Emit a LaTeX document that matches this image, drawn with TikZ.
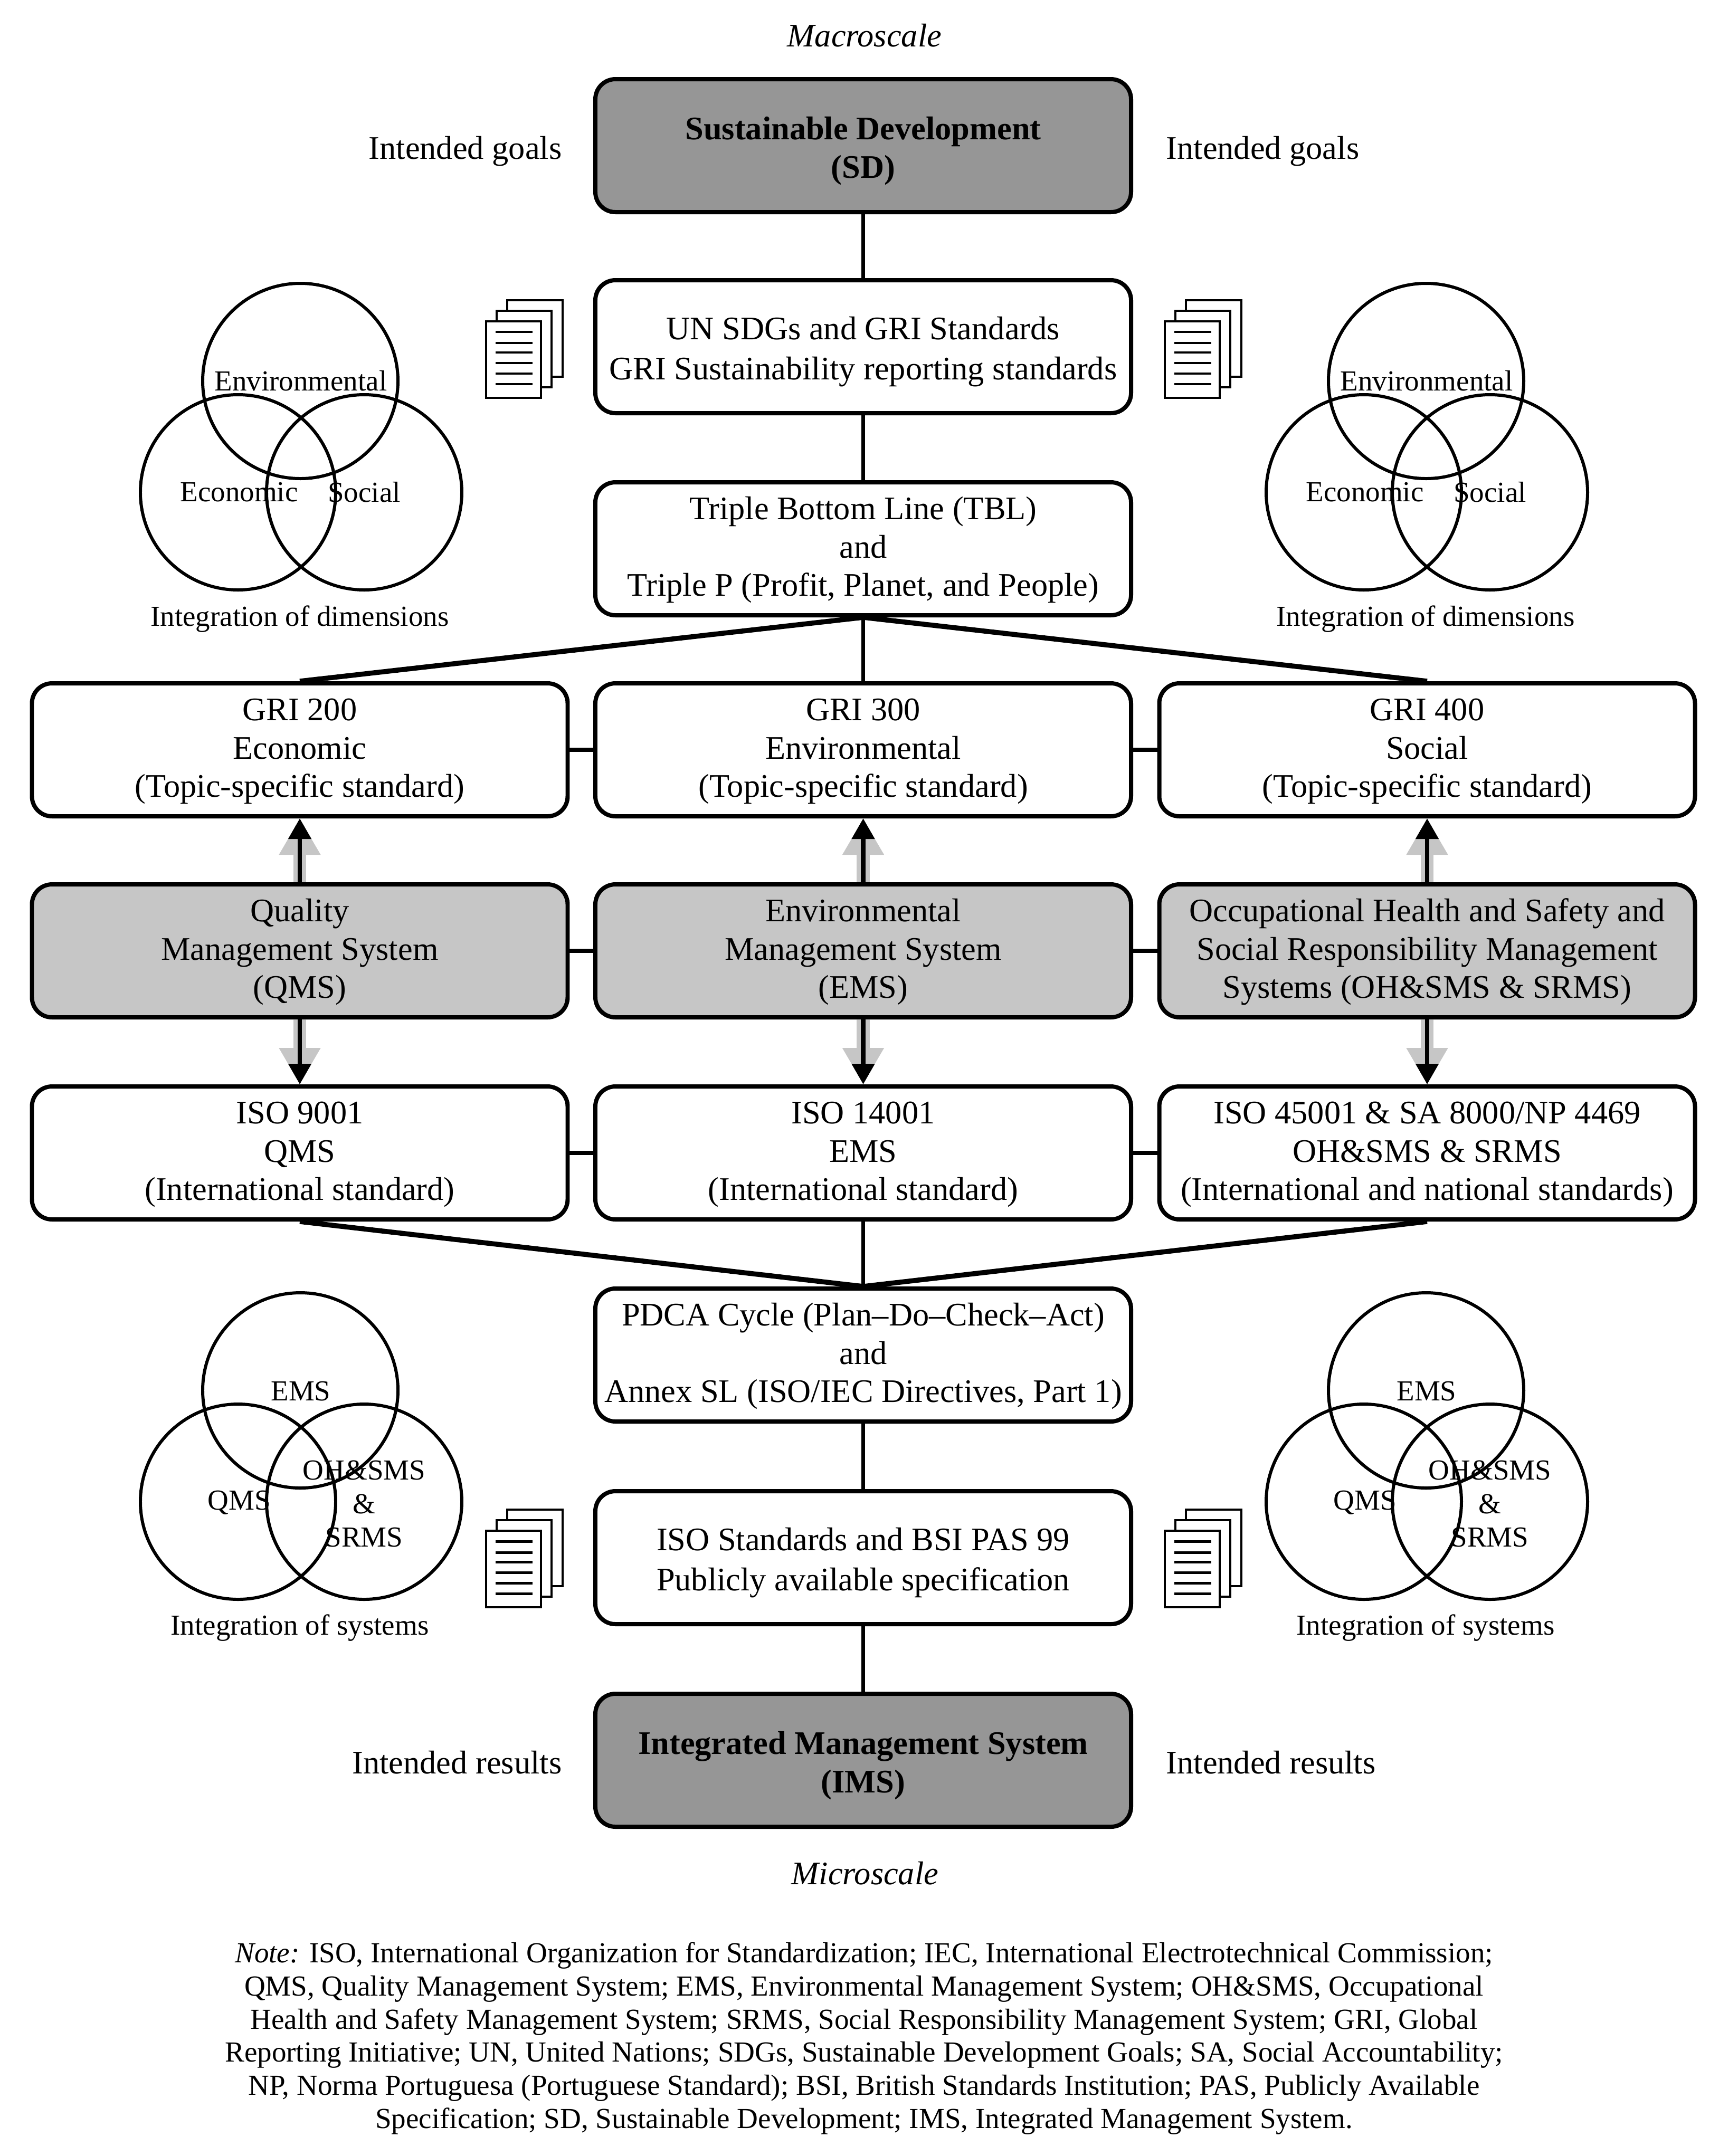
\documentclass[tikz,border=0pt]{standalone}
\usepackage{fontspec}
\setmainfont{Liberation Serif}
\usepackage{xcolor}
\usetikzlibrary{arrows.meta}
\definecolor{darkfill}{HTML}{969696}
\definecolor{midfill}{HTML}{C6C6C6}
\newcommand{\lift}[1]{\rule{0pt}{#1}}
\tikzset{
  stdbox/.style={draw=black, line width=2.27pt, fill=white, rounded corners=0.38cm, minimum width=10.15cm,
    minimum height=2.52cm, inner sep=0pt, align=center, font=\fontsize{17.75}{20.6}\selectfont},
  midbox/.style={stdbox, fill=midfill},
  darkbox/.style={stdbox, fill=darkfill, font=\fontsize{17.75}{21}\selectfont\bfseries},
  conn/.style={draw=black, line width=2.1pt},
  diag/.style={draw=black, line width=2.7pt},
  blackarrow/.style={draw=black, line width=2.3pt, -{Triangle[length=0.39cm, width=0.42cm, sep=0pt]}},
  greyarrow/.style={draw=midfill, line width=7pt, -{Triangle[length=0.69cm, width=0.74cm]}},
  vennline/.style={draw=black, line width=1.7pt},
  lbl/.style={font=\fontsize{17.75}{20.6}\selectfont, inner sep=0pt, align=center},
  smalllbl/.style={font=\fontsize{15.65}{18}\selectfont, inner sep=0pt, align=center},
  page/.style={draw=black, line width=1.33pt, fill=white},
  docs/.pic={
    \draw[page] (0.40,0.40) rectangle (1.45,1.85);
    \draw[page] (0.20,0.20) rectangle (1.24,1.65);
    \draw[page] (0,0) rectangle (1.04,1.45);
    \foreach \ly in {0.26,0.46,0.66,0.86,1.04,1.25}
      \draw[black, line width=1.4pt] (0.18,\ly) -- (0.88,\ly);
  }
}
\begin{document}
\begin{tikzpicture}
  \useasboundingbox (0,0) rectangle (32.57,-40.86);

  % top and bottom labels
  \node[lbl, font=\fontsize{17.75}{20.6}\selectfont\itshape] (macro) at (16.38,-0.67) {Macroscale};
  \node[lbl, anchor=east] (goalsl) at (10.65,-2.87) {Intended goals};
  \node[lbl, anchor=west] (goalsr) at (22.09,-2.87) {Intended goals};
  \node[lbl, anchor=east] (resl) at (10.65,-33.40) {Intended results};
  \node[lbl, anchor=west] (resr) at (22.09,-33.40) {Intended results};
  \node[lbl, font=\fontsize{17.75}{20.6}\selectfont\itshape] (micro) at (16.39,-35.50) {Microscale};

  % centre column
  \node[darkbox] (sd) at (16.355,-2.76) {\lift{18pt}Sustainable Development\\(SD)};
  \node[stdbox] (unsdg) at (16.355,-6.57) {\lift{18pt}UN SDGs and GRI Standards\\[1pt]GRI Sustainability reporting standards};
  \node[stdbox] (tbl) at (16.355,-10.40) {\lift{13.5pt}Triple Bottom Line (TBL)\\and\\Triple P (Profit, Planet, and People)};
  \node[stdbox] (pdca) at (16.355,-25.68) {\lift{13.5pt}PDCA Cycle (Plan--Do--Check--Act)\\and\\Annex SL (ISO/IEC Directives, Part 1)};
  \node[stdbox] (pas) at (16.355,-29.52) {\lift{18pt}ISO Standards and BSI PAS 99\\[1pt]Publicly available specification};
  \node[darkbox] (ims) at (16.355,-33.36) {\lift{18pt}Integrated Management System\\(IMS)};

  % three rows of three
  \node[stdbox] (gri200) at (5.68,-14.21) {\lift{13.5pt}GRI 200\\Economic\\(Topic-specific standard)};
  \node[stdbox] (gri300) at (16.355,-14.21) {\lift{13.5pt}GRI 300\\Environmental\\(Topic-specific standard)};
  \node[stdbox] (gri400) at (27.04,-14.21) {\lift{13.5pt}GRI 400\\Social\\(Topic-specific standard)};

  \node[midbox] (qms) at (5.68,-18.02) {\lift{13.5pt}Quality\\Management System\\(QMS)};
  \node[midbox] (ems) at (16.355,-18.02) {\lift{13.5pt}Environmental\\Management System\\(EMS)};
  \node[midbox] (ohs) at (27.04,-18.02) {\lift{13.5pt}Occupational Health and Safety and\\Social Responsibility Management\\Systems (OH\&SMS \& SRMS)};

  \node[stdbox] (iso9001) at (5.68,-21.85) {\lift{13.5pt}ISO 9001\\QMS\\(International standard)};
  \node[stdbox] (iso14001) at (16.355,-21.85) {\lift{13.5pt}ISO 14001\\EMS\\(International standard)};
  \node[stdbox] (iso45001) at (27.04,-21.85) {\lift{13.5pt}ISO 45001 \& SA 8000/NP 4469\\OH\&SMS \& SRMS\\(International and national standards)};

  % connectors
  \draw[conn] (sd.south) -- (unsdg.north);
  \draw[conn] (unsdg.south) -- (tbl.north);
  \draw[conn] (tbl.south) -- (gri300.north);
  \draw[diag] (tbl.south) -- (gri200.north);
  \draw[diag] (tbl.south) -- (gri400.north);
  \draw[conn] (gri200) -- (gri300);
  \draw[conn] (gri300) -- (gri400);
  \draw[conn] (qms) -- (ems);
  \draw[conn] (ems) -- (ohs);
  \draw[conn] (iso9001) -- (iso14001);
  \draw[conn] (iso14001) -- (iso45001);
  \draw[conn] (iso14001.south) -- (pdca.north);
  \draw[diag] (iso9001.south) -- (pdca.north);
  \draw[diag] (iso45001.south) -- (pdca.north);
  \draw[conn] (pdca.south) -- (pas.north);
  \draw[conn] (pas.south) -- (ims.north);

  % double arrows, grey under black
  \foreach \mid/\up/\down in {qms/gri200/iso9001, ems/gri300/iso14001, ohs/gri400/iso45001} {
    \draw[greyarrow] (\mid.north) -- (\up.south);
    \draw[greyarrow] (\mid.south) -- (\down.north);
    \draw[blackarrow] (\mid.north) -- (\up.south);
    \draw[blackarrow] (\mid.south) -- (\down.north);
  }

  % venn diagrams, left and right
  \foreach \dx/\side in {0/l,21.33/r} {
    \begin{scope}[xshift=\dx cm]
      \draw[vennline] (5.69,-7.22) circle (1.85);
      \draw[vennline] (4.51,-9.33) circle (1.85);
      \draw[vennline] (6.90,-9.33) circle (1.85);
      \node[smalllbl] (env\side) at (5.70,-7.22) {Environmental};
      \node[smalllbl] (eco\side) at (4.53,-9.33) {Economic};
      \node[smalllbl] (soc\side) at (6.90,-9.33) {Social};
      \node[smalllbl] (dim\side) at (5.68,-11.73) {Integration of dimensions};

      \draw[vennline] (5.69,-26.35) circle (1.85);
      \draw[vennline] (4.51,-28.46) circle (1.85);
      \draw[vennline] (6.90,-28.46) circle (1.85);
      \node[smalllbl] (emsv\side) at (5.70,-26.37) {EMS};
      \node[smalllbl] (qmsv\side) at (4.53,-28.48) {QMS};
      \node[smalllbl] (ohsv\side) at (6.90,-28.50) {OH\&SMS\\\&\\SRMS};
      \node[smalllbl] (sys\side) at (5.68,-30.85) {Integration of systems};
    \end{scope}
  }

  % page icons
  \pic at (9.21,-7.54) {docs};
  \pic at (22.07,-7.54) {docs};
  \pic at (9.21,-30.46) {docs};
  \pic at (22.07,-30.46) {docs};

  % note
  \node[smalllbl, font=\fontsize{15.68}{17.9}\selectfont] (note) at (16.37,-38.63) {\textit{Note:} ISO, International Organization for Standardization; IEC, International Electrotechnical Commission;\\
    QMS, Quality Management System; EMS, Environmental Management System; OH\&SMS, Occupational\\
    Health and Safety Management System; SRMS, Social Responsibility Management System; GRI, Global\\
    Reporting Initiative; UN, United Nations; SDGs, Sustainable Development Goals; SA, Social Accountability;\\
    NP, Norma Portuguesa (Portuguese Standard); BSI, British Standards Institution; PAS, Publicly Available\\
    Specification; SD, Sustainable Development; IMS, Integrated Management System.};
\end{tikzpicture}
\end{document}
